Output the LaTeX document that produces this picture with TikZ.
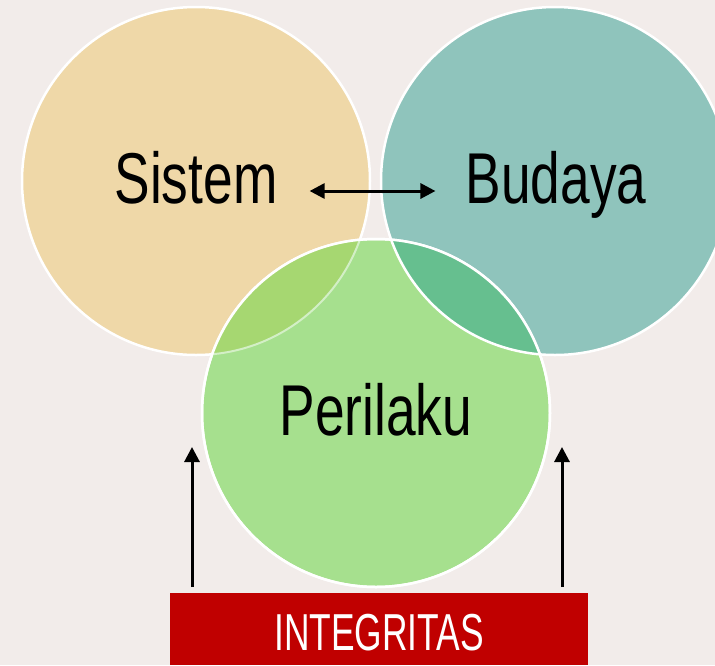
\documentclass[tikz,border=0pt]{standalone}
\usepackage{fontspec}
\setmainfont{Liberation Sans}[FakeStretch=0.74]
\newfontfamily\boxfont{Liberation Sans}[FakeStretch=0.68]
\usepackage{tikz}
\usetikzlibrary{arrows.meta,calc}
\definecolor{bgcol}{HTML}{F2ECEA}
\definecolor{sistemcol}{HTML}{EFD8A8}
\definecolor{budayacol}{HTML}{8FC4BC}
\definecolor{perilakucol}{HTML}{A6E08E}
\definecolor{sispercol}{HTML}{A6D771}
\definecolor{budpercol}{HTML}{66BF8F}
\definecolor{redbox}{HTML}{C00000}
\tikzstyle{ring}=[circle, minimum size=348pt, inner sep=0pt, draw=white, line width=2.5pt]
\tikzstyle{lbl}=[inner sep=0pt, anchor=base, font=\fontsize{72}{76}\selectfont, text=black]
\tikzstyle{arr}=[line width=3pt, -{Triangle[length=15pt,width=15pt]}]
\tikzstyle{bararr}=[line width=3pt, {Triangle[length=15pt,width=15pt]}-{Triangle[length=15pt,width=15pt]}]
\begin{document}
\begin{tikzpicture}[x=1pt,y=-1pt]
\fill[bgcol] (0,0) rectangle (715,665);
\useasboundingbox (0,0) rectangle (715,665);
\begin{scope}
\clip (0,0) rectangle (715,665);
\node [ring, fill=sistemcol] (sistemring) at (196,181) {};
\node [ring, fill=budayacol] (budayaring) at (555,181) {};
\node [ring, fill=perilakucol] (perilakuring) at (376,413) {};
\begin{scope}
\clip (196,181) circle (174);
\fill[sispercol] (376,413) circle (174);
\end{scope}
\begin{scope}
\clip (555,181) circle (174);
\fill[budpercol] (376,413) circle (174);
\end{scope}
\begin{scope}
\clip (376,413) circle (174);
\draw[white!50!perilakucol, line width=2pt] (196,181) circle (174);
\draw[white, line width=2.5pt] (555,181) circle (174);
\end{scope}
\draw[white, line width=2.5pt] (376,413) circle (174);
\end{scope}
\node [lbl] (sistem) at (196,203) {Sistem};
\node [lbl] (budaya) at (556,203) {Budaya};
\node [lbl] (perilaku) at (376,435) {Perilaku};
\fill[redbox] (170,593) rectangle (588,665);
\node [inner sep=0pt, anchor=base, text=white, font=\boxfont\fontsize{52}{56}\selectfont]
  (integritas) at (379,650) {INTEGRITAS};
\coordinate (boxL) at (192,593);
\coordinate (boxR) at (562,593);
\coordinate (tipL) at (192,447);
\coordinate (tipR) at (562,447);
\draw [bararr] ($(sistem.base east)+(32,-12)$) -- ($(budaya.base west)+(-30,-12)$);
\draw [arr, shorten <=6pt] (boxL) -- (tipL);
\draw [arr, shorten <=6pt] (boxR) -- (tipR);
\end{tikzpicture}
\end{document}
